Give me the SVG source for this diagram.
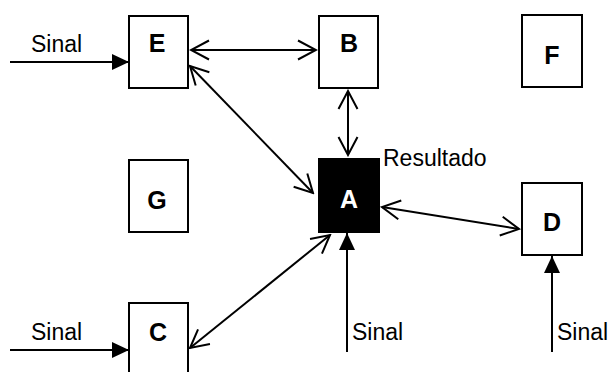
<svg xmlns="http://www.w3.org/2000/svg" width="611" height="372" viewBox="0 0 611 372">
<style>
.box{fill:#fff;stroke:#000;stroke-width:2}
.lbl{font-family:"Liberation Sans",Arial,sans-serif;font-weight:bold;font-size:25px;text-anchor:middle;fill:#000}
.txt{font-family:"Liberation Sans",Arial,sans-serif;font-size:23px;fill:#000}
.ln{stroke:#000;stroke-width:2;fill:none}
.bi{marker-start:url(#open);marker-end:url(#open)}
.sig{marker-end:url(#solid)}
</style>
<defs>
<marker id="open" markerUnits="userSpaceOnUse" viewBox="-20 -11 22 22" refX="0" refY="0" markerWidth="22" markerHeight="22" orient="auto-start-reverse">
<path d="M-18,-9.5 L0,0 L-18,9.5" fill="none" stroke="#000" stroke-width="2"/>
</marker>
<marker id="solid" markerUnits="userSpaceOnUse" viewBox="-18 -9 19 18" refX="0" refY="0" markerWidth="19" markerHeight="18" orient="auto">
<path d="M-17,-8 L0,0 L-17,8 Z" fill="#000"/>
</marker>
</defs>
<g id="connectors">
<line class="ln sig" x1="10" y1="62" x2="129" y2="62"/>
<line class="ln bi" x1="191" y1="50" x2="316" y2="50"/>
<line class="ln bi" x1="348" y1="91" x2="348" y2="155"/>
<line class="ln bi" x1="190" y1="66" x2="313" y2="193"/>
<line class="ln bi" x1="190" y1="348" x2="330" y2="235"/>
<line class="ln bi" x1="382" y1="207" x2="519" y2="229"/>
<line class="ln sig" x1="347" y1="352" x2="347" y2="233"/>
<line class="ln sig" x1="552" y1="352" x2="552" y2="256"/>
<line class="ln sig" x1="10" y1="350" x2="129" y2="350"/>
<text class="txt" x="31" y="52">Sinal</text>
<text class="txt" x="31" y="340">Sinal</text>
<text class="txt" x="352" y="340">Sinal</text>
<text class="txt" x="557" y="340">Sinal</text>
<text class="txt" x="383" y="166">Resultado</text>
</g>
<g id="E"><rect class="box" x="129" y="16" width="59" height="72"/><text class="lbl" x="157" y="52">E</text></g>
<g id="B"><rect class="box" x="319" y="16" width="59" height="72"/><text class="lbl" x="349" y="52">B</text></g>
<g id="F"><rect class="box" x="522" y="15" width="60" height="72"/><text class="lbl" x="552" y="64">F</text></g>
<g id="G"><rect class="box" x="129" y="160" width="59" height="72"/><text class="lbl" x="157" y="209">G</text></g>
<g id="A"><rect x="319" y="159" width="60" height="73" fill="#000" stroke="#000" stroke-width="2"/><text class="lbl" x="349" y="208" style="fill:#fff">A</text></g>
<g id="D"><rect class="box" x="522" y="183" width="60" height="72"/><text class="lbl" x="552" y="231">D</text></g>
<g id="C"><rect class="box" x="129" y="303" width="59" height="72"/><text class="lbl" x="158" y="341">C</text></g>
</svg>
